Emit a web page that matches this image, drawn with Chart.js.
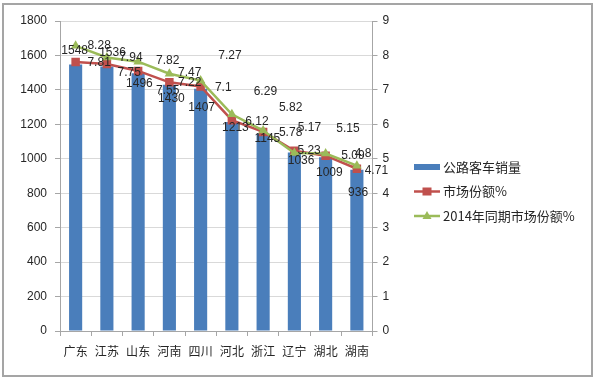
<!DOCTYPE html>
<html>
<head>
<meta charset="utf-8">
<script src="https://cdn.jsdelivr.net/npm/chart.js@4/dist/chart.umd.min.js"></script>
<style>
html,body{margin:0;padding:0;background:#fff;}
canvas{display:block;}
</style>
</head>
<body>
<canvas id="c" width="600" height="380"></canvas>
<script>
// ---- data ----
const categories = ['广东','江苏','山东','河南','四川','河北','浙江','辽宁','湖北','湖南'];
const sales = [1548,1536,1496,1430,1407,1213,1145,1036,1009,936];
const share = [7.81,7.75,7.55,7.22,7.1,6.12,5.78,5.23,5.09,4.71];
const share2014 = [8.28,7.94,7.82,7.47,7.27,6.29,5.82,5.17,5.15,4.8];
const seriesNames = ['公路客车销量','市场份额%','2014年同期市场份额%'];
const leftTickStep = 200, leftMax = 1800;
const rightTickStep = 1, rightMax = 9;

// ---- label nudges (style, relative to each mark) ----
const barLabelDx = [-1,5.6,1.3,2,1,3.5,4.2,6.7,3.7,1.2];
const barLabelDy = [-13.4,-13.4,10.6,14,19,6,5,8.4,15.7,22.7];
const redLabelDx = [23.5,22.3,29.6,20.3,22.6,25,27.5,14.7,27.4,19.5];
const redLabelDy = [0.7,8.7,20,0.4,1.3,1,0.8,0.1,0.3,2.2];
const greenLabelDx = [23.5,24,29.6,20.3,29.3,33.5,27.5,15,22.4,6.2];
const greenLabelDy = [0,0.2,-0.6,-1,-24.6,-23,-22.8,-25.3,-24.6,-11.7];

const FONT = "'Liberation Sans','Noto Sans CJK SC',sans-serif";
const CJK = "'Noto Sans CJK SC','Liberation Sans',sans-serif";
const BLUE = '#4a7ebb', RED = '#c0504d', GREEN = '#9bbb59';
const TXT = '#262626', AXIS = '#a6a6a6', GRID = '#d9d9d9';

const frame = {
  id: 'frame',
  beforeDraw(chart) {
    const ctx = chart.ctx;
    ctx.save();
    ctx.fillStyle = '#fff';
    ctx.fillRect(0, 0, chart.width, chart.height);
    ctx.strokeStyle = '#a5a5a5';
    ctx.lineWidth = 2;
    ctx.strokeRect(3, 4, 589, 372);
    ctx.restore();
  }
};

const dataLabels = {
  id: 'dataLabels',
  afterDatasetsDraw(chart) {
    const ctx = chart.ctx;
    ctx.save();
    ctx.font = '12px ' + FONT;
    ctx.fillStyle = TXT;
    ctx.textAlign = 'center';
    ctx.textBaseline = 'middle';
    const specs = [
      {ds: 0, vals: sales, dx: barLabelDx, dy: barLabelDy},
      {ds: 1, vals: share, dx: redLabelDx, dy: redLabelDy},
      {ds: 2, vals: share2014, dx: greenLabelDx, dy: greenLabelDy}
    ];
    specs.forEach(s => {
      const meta = chart.getDatasetMeta(s.ds);
      meta.data.forEach((el, i) => {
        ctx.fillText(String(s.vals[i]), el.x + s.dx[i], el.y + s.dy[i]);
      });
    });
    ctx.restore();
  }
};

const legendBox = {
  id: 'legendBox',
  afterDraw(chart) {
    const ctx = chart.ctx;
    const x0 = 414, w = 26, tx = 443;
    const rows = [167, 191.5, 216];
    ctx.save();
    ctx.fillStyle = BLUE;
    ctx.fillRect(x0, rows[0] - 3, w, 6);
    ctx.strokeStyle = RED; ctx.lineWidth = 2.5;
    ctx.beginPath(); ctx.moveTo(x0, rows[1]); ctx.lineTo(x0 + w, rows[1]); ctx.stroke();
    ctx.fillStyle = RED;
    ctx.fillRect(x0 + w / 2 - 4.5, rows[1] - 4, 9, 8);
    ctx.strokeStyle = GREEN;
    ctx.beginPath(); ctx.moveTo(x0, rows[2]); ctx.lineTo(x0 + w, rows[2]); ctx.stroke();
    ctx.fillStyle = GREEN;
    ctx.beginPath();
    ctx.moveTo(x0 + w / 2, rows[2] - 5);
    ctx.lineTo(x0 + w / 2 + 4.5, rows[2] + 3);
    ctx.lineTo(x0 + w / 2 - 4.5, rows[2] + 3);
    ctx.closePath(); ctx.fill();
    ctx.fillStyle = TXT;
    ctx.font = '13px ' + CJK;
    ctx.textAlign = 'left';
    ctx.textBaseline = 'middle';
    seriesNames.forEach((n, i) => ctx.fillText(n, tx, rows[i]));
    ctx.restore();
  }
};

new Chart(document.getElementById('c'), {
  data: {
    labels: categories,
    datasets: [
      {
        type: 'bar', label: seriesNames[0], data: sales, yAxisID: 'y',
        backgroundColor: BLUE, borderWidth: 0,
        barPercentage: 0.42, categoryPercentage: 1, order: 3
      },
      {
        type: 'line', label: seriesNames[1], data: share, yAxisID: 'y1',
        borderColor: RED, borderWidth: 2.5, tension: 0,
        pointStyle: 'rect', pointRadius: 6, pointBackgroundColor: RED,
        pointBorderColor: RED, pointBorderWidth: 0, order: 2
      },
      {
        type: 'line', label: seriesNames[2], data: share2014, yAxisID: 'y1',
        borderColor: GREEN, borderWidth: 2.5, tension: 0,
        pointStyle: 'triangle', pointRadius: 5.5, pointBackgroundColor: GREEN,
        pointBorderColor: GREEN, pointBorderWidth: 0, order: 1
      }
    ]
  },
  options: {
    responsive: false,
    animation: false,
    devicePixelRatio: 1,
    layout: { padding: { top: 21, right: 196, bottom: 0, left: 0 } },
    plugins: { legend: { display: false }, tooltip: { enabled: false } },
    scales: {
      x: {
        type: 'category',
        grid: { offset: true, drawOnChartArea: false, drawTicks: true, tickLength: 5, color: AXIS },
        border: { color: AXIS },
        ticks: { font: { family: CJK, size: 12 }, color: TXT, padding: 8, maxRotation: 0 },
        afterFit(s) { s.height = 49; }
      },
      y: {
        position: 'left', min: 0, max: leftMax,
        ticks: { stepSize: leftTickStep, font: { family: FONT, size: 12 }, color: TXT, padding: 8,
                 callback: v => String(v) },
        grid: { color: GRID, tickColor: AXIS, tickLength: 5 },
        border: { color: AXIS },
        afterFit(s) { s.width = 60; }
      },
      y1: {
        position: 'right', min: 0, max: rightMax,
        ticks: { stepSize: rightTickStep, font: { family: FONT, size: 12 }, color: TXT, padding: 5,
                 callback: v => String(v) },
        grid: { drawOnChartArea: false, color: AXIS, tickLength: 5 },
        border: { color: AXIS },
        afterFit(s) { s.width = 31.5; }
      }
    }
  },
  plugins: [frame, dataLabels, legendBox]
});
</script>
</body>
</html>
